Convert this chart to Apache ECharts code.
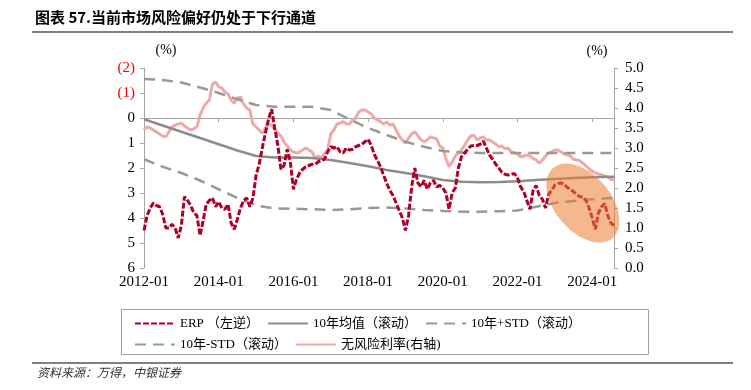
<!DOCTYPE html>
<html>
<head>
<meta charset="utf-8">
<script src="https://cdn.jsdelivr.net/npm/echarts@6/dist/echarts.min.js"></script>
<style>
html,body{margin:0;padding:0;background:#fff;}
#c{width:751px;height:390px;}
</style>
</head>
<body>
<div id="c"></div>
<script>
// ---- data (monthly, 2012-01 .. 2024-08) ----
var startYear = 2012, startMonth = 1, monthCount = 152;
var months = [];
for (var k = 0; k < monthCount; k++) {
  var y = startYear + Math.floor((startMonth - 1 + k) / 12);
  var m = (startMonth - 1 + k) % 12 + 1;
  months.push(y + '-' + (m < 10 ? '0' + m : '' + m));
}

// ERP (left axis, inverted), one value per month
var erp = [
  4.5, 3.9, 3.6, 3.4, 3.5, 3.55, 3.85, 4.4, 4.4, 4.25, 4.4, 4.8,
  4.3, 3.15, 3.3, 3.5, 3.8, 3.9, 4.7, 4.1, 3.45, 3.3, 3.2, 3.55,
  3.35, 3.6, 3.65, 3.45, 4.2, 4.45, 4.05, 3.6, 3.3, 3.2, 3.55, 3.2,
  2.3, 1.85, 1.2, 0.6, 0.05, -0.35, 0.4, 1.1, 2.05, 1.9, 1.25, 1.75,
  2.85, 2.45, 2.2, 2.05, 1.95, 1.9, 1.85, 1.85, 1.75, 1.7, 1.65, 1.35,
  1.15, 1.2, 1.15, 1.35, 1.4, 1.2, 1.28, 1.25, 1.15, 1.1, 1.05, 0.95,
  0.85, 1.1, 1.45, 1.7, 1.95, 2.3, 2.62, 2.9, 3.1, 3.4, 3.7, 4.0,
  4.5, 3.9, 2.75, 2.0, 2.6, 2.75, 2.5, 2.85, 2.6, 2.5, 2.75, 2.7,
  2.8, 3.0, 3.65, 3.0, 2.8, 2.0, 1.55, 1.4, 1.25, 1.12, 1.1, 1.1,
  1.05, 0.92, 1.2, 1.48, 1.65, 1.85, 2.0, 2.18, 2.25, 2.28, 2.25, 2.22,
  2.4, 2.75, 2.95, 3.3, 3.65, 2.9, 2.7, 3.1, 3.25, 3.6, 3.05, 2.9,
  2.68, 2.62, 2.6, 2.65, 2.78, 2.85, 2.95, 3.05, 3.15, 3.15, 3.3, 3.6,
  4.0, 4.45, 3.8, 3.55, 3.42, 3.9, 4.2, 4.3
];

// Risk-free rate (right axis), one value per month
var rf = [
  3.45, 3.53, 3.5, 3.45, 3.4, 3.35, 3.3, 3.28, 3.4, 3.53, 3.57, 3.6,
  3.62, 3.55, 3.5, 3.45, 3.48, 3.53, 3.82, 4.0, 4.12, 4.2, 4.6, 4.65,
  4.53, 4.5, 4.4, 4.35, 4.2, 4.12, 4.25, 4.28, 4.1, 4.0, 3.95, 3.6,
  3.53, 3.45, 3.37, 3.5, 3.6, 3.57, 3.45, 3.37, 3.3, 3.15, 3.05, 2.95,
  2.9, 2.87, 2.9, 2.95, 3.0, 2.95, 2.9, 2.75, 2.8, 2.74, 2.87, 2.95,
  3.35, 3.45, 3.6, 3.62, 3.66, 3.6, 3.6, 3.7, 3.75, 3.9, 3.95, 3.95,
  3.9, 3.85, 3.75, 3.7, 3.66, 3.6, 3.65, 3.57, 3.6, 3.45, 3.3, 3.2,
  3.12, 3.25, 3.35, 3.41, 3.3, 3.2, 3.16, 3.2, 3.28, 3.25, 3.24, 3.05,
  3.0, 2.74, 2.53, 2.65, 2.8, 2.87, 2.95, 3.07, 3.2, 3.3, 3.32, 3.2,
  3.25, 3.28, 3.2, 3.2, 3.15, 3.1, 3.03, 3.05, 2.98, 3.0, 2.9, 2.88,
  2.85, 2.78, 2.8, 2.83, 2.8, 2.74, 2.7, 2.62, 2.7, 2.8, 2.87, 2.9,
  2.95, 2.95, 2.9, 2.85, 2.83, 2.8, 2.72, 2.7, 2.68, 2.62, 2.55, 2.48,
  2.42, 2.38, 2.35, 2.33, 2.3, 2.28, 2.22, 2.2
];

// Rolling stats, read every 6 months (month index -> value)
var statIdx  = [0, 6, 12, 18, 24, 30, 36, 42, 48, 54, 60, 66, 72, 78, 84, 90, 96, 102, 108, 114, 120, 126, 132, 138, 144, 151];
var meanVals = [0.05, 0.3, 0.55, 0.8, 1.05, 1.3, 1.52, 1.58, 1.58, 1.6, 1.68, 1.8, 1.93, 2.08, 2.2, 2.33, 2.48, 2.55, 2.57, 2.56, 2.53, 2.48, 2.44, 2.4, 2.37, 2.35];
var upVals   = [-1.56, -1.52, -1.42, -1.22, -1.0, -0.75, -0.52, -0.45, -0.45, -0.45, -0.32, 0.05, 0.4, 0.68, 0.95, 1.15, 1.32, 1.38, 1.4, 1.4, 1.4, 1.4, 1.4, 1.4, 1.4, 1.4];
var lowVals  = [1.65, 1.95, 2.2, 2.5, 2.85, 3.2, 3.5, 3.62, 3.63, 3.65, 3.68, 3.65, 3.6, 3.58, 3.62, 3.68, 3.72, 3.75, 3.75, 3.73, 3.7, 3.55, 3.4, 3.32, 3.25, 3.2];

var leftTicks = { min: -2, max: 6, interval: 1 };
var rightTicks = { min: 0, max: 5, interval: 0.5 };

var names = ['ERP （左逆）', '10年均值（滚动）', '10年+STD（滚动）', '10年-STD（滚动）', '无风险利率(右轴)'];
var highlight = { month: '2023-10', value: 3.4 };

function sparse(idx, vals) {
  var arr = new Array(monthCount).fill(null);
  for (var i = 0; i < idx.length; i++) arr[idx[i]] = vals[i];
  return arr;
}

var FONT = "'Liberation Serif', 'Noto Sans CJK SC', serif";
var chart = echarts.init(document.getElementById('c'));

var option = {
  animation: false,
  backgroundColor: '#fff',
  textStyle: { fontFamily: FONT },
  grid: { left: 144, right: 137, top: 68, bottom: 122, containLabel: false },
  xAxis: {
    type: 'category',
    data: months,
    boundaryGap: false,
    axisLine: { lineStyle: { color: '#a6a6a6', width: 1 } },
    axisTick: {
      length: 4, lineStyle: { color: '#a6a6a6' },
      interval: function (i, v) { return /-01$/.test(v) && parseInt(v, 10) % 2 === 0; }
    },
    axisLabel: {
      color: '#000', fontSize: 15, fontFamily: FONT, margin: 7,
      interval: function (i, v) { return /-01$/.test(v) && parseInt(v, 10) % 2 === 0; }
    },
    splitLine: { show: false }
  },
  yAxis: [
    {
      type: 'value', inverse: true,
      min: leftTicks.min, max: leftTicks.max, interval: leftTicks.interval,
      axisLine: { show: true, lineStyle: { color: '#a6a6a6' } },
      axisTick: { show: true, length: 4, lineStyle: { color: '#a6a6a6' } },
      splitLine: { show: false },
      axisLabel: {
        fontSize: 15, fontFamily: FONT, margin: 9,
        color: function (v) { return Number(v) < 0 ? '#ff0000' : '#000'; },
        formatter: function (v) { return v < 0 ? '(' + (-v) + ')' : '' + v; }
      }
    },
    {
      type: 'value',
      min: rightTicks.min, max: rightTicks.max, interval: rightTicks.interval,
      axisLine: { show: true, lineStyle: { color: '#a6a6a6' } },
      axisTick: { show: true, length: 4, lineStyle: { color: '#a6a6a6' } },
      splitLine: { show: false },
      axisLabel: {
        color: '#000', fontSize: 15, fontFamily: FONT, margin: 11,
        formatter: function (v) { return v.toFixed(1); }
      }
    }
  ],
  legend: {
    left: 129, top: 312, width: 545,
    itemWidth: 40, itemHeight: 14, itemGap: 8,
    data: names,
    itemStyle: { opacity: 0 },
    textStyle: { fontSize: 13, color: '#000', fontFamily: FONT, width: 126 },
    selectedMode: false
  },
  series: [
    {
      name: names[4], type: 'line', yAxisIndex: 1, data: rf, symbol: 'none', z: 2,
      lineStyle: { color: '#eeaaaa', width: 3 }, itemStyle: { color: '#eeaaaa' }
    },
    {
      name: names[1], type: 'line', data: sparse(statIdx, meanVals), connectNulls: true, symbol: 'none', z: 3,
      lineStyle: { color: '#8c8c8c', width: 2.5 }, itemStyle: { color: '#8c8c8c' }
    },
    {
      name: names[2], type: 'line', data: sparse(statIdx, upVals), connectNulls: true, symbol: 'none', z: 3,
      lineStyle: { color: '#999999', width: 2.5, type: [11, 7] }, itemStyle: { color: '#999999' }
    },
    {
      name: names[3], type: 'line', data: sparse(statIdx, lowVals), connectNulls: true, symbol: 'none', z: 3,
      lineStyle: { color: '#999999', width: 2.5, type: [11, 7] }, itemStyle: { color: '#999999' }
    },
    {
      name: names[0], type: 'line', data: erp, symbol: 'none', z: 4,
      lineStyle: { color: '#ae0028', width: 3, type: [6, 2] }, itemStyle: { color: '#ae0028' }
    }
  ]
};
chart.setOption(option);

var c = chart.convertToPixel({ xAxisIndex: 0, yAxisIndex: 0 }, [highlight.month, highlight.value]);

chart.setOption({
  graphic: [
    { type: 'text', left: 35, top: 10, z: 100,
      style: { text: '图表 57.当前市场风险偏好仍处于下行通道', font: "bold 15px 'Noto Sans CJK SC', sans-serif", fill: '#000' } },
    { type: 'line', z: 100, shape: { x1: 32, y1: 32, x2: 733, y2: 32 }, style: { stroke: '#555', lineWidth: 1.5 } },
    { type: 'text', z: 100, x: 166, y: 50,
      style: { text: '(%)', font: "14px 'Liberation Serif', serif", fill: '#000', align: 'center', verticalAlign: 'middle' } },
    { type: 'text', z: 100, x: 597, y: 51,
      style: { text: '(%)', font: "14px 'Liberation Serif', serif", fill: '#000', align: 'center', verticalAlign: 'middle' } },
    { type: 'ellipse', z: 100, x: c[0], y: c[1], rotation: -50 * Math.PI / 180,
      shape: { cx: 0, cy: 0, rx: 46, ry: 28 },
      style: { fill: 'rgba(237,125,49,0.55)' } },
    { type: 'rect', z: 1, shape: { x: 121.5, y: 309.5, width: 527, height: 45 },
      style: { fill: 'none', stroke: '#a0a0a0', lineWidth: 1 } },
    { type: 'line', z: 100, shape: { x1: 32, y1: 363, x2: 733, y2: 363 }, style: { stroke: '#808080', lineWidth: 2 } },
    { type: 'text', left: 37, top: 366, z: 100,
      style: { text: '资料来源：万得，中银证券', font: "italic 12px 'Noto Sans CJK SC', sans-serif", fill: '#333' } }
  ]
});
</script>
</body>
</html>
